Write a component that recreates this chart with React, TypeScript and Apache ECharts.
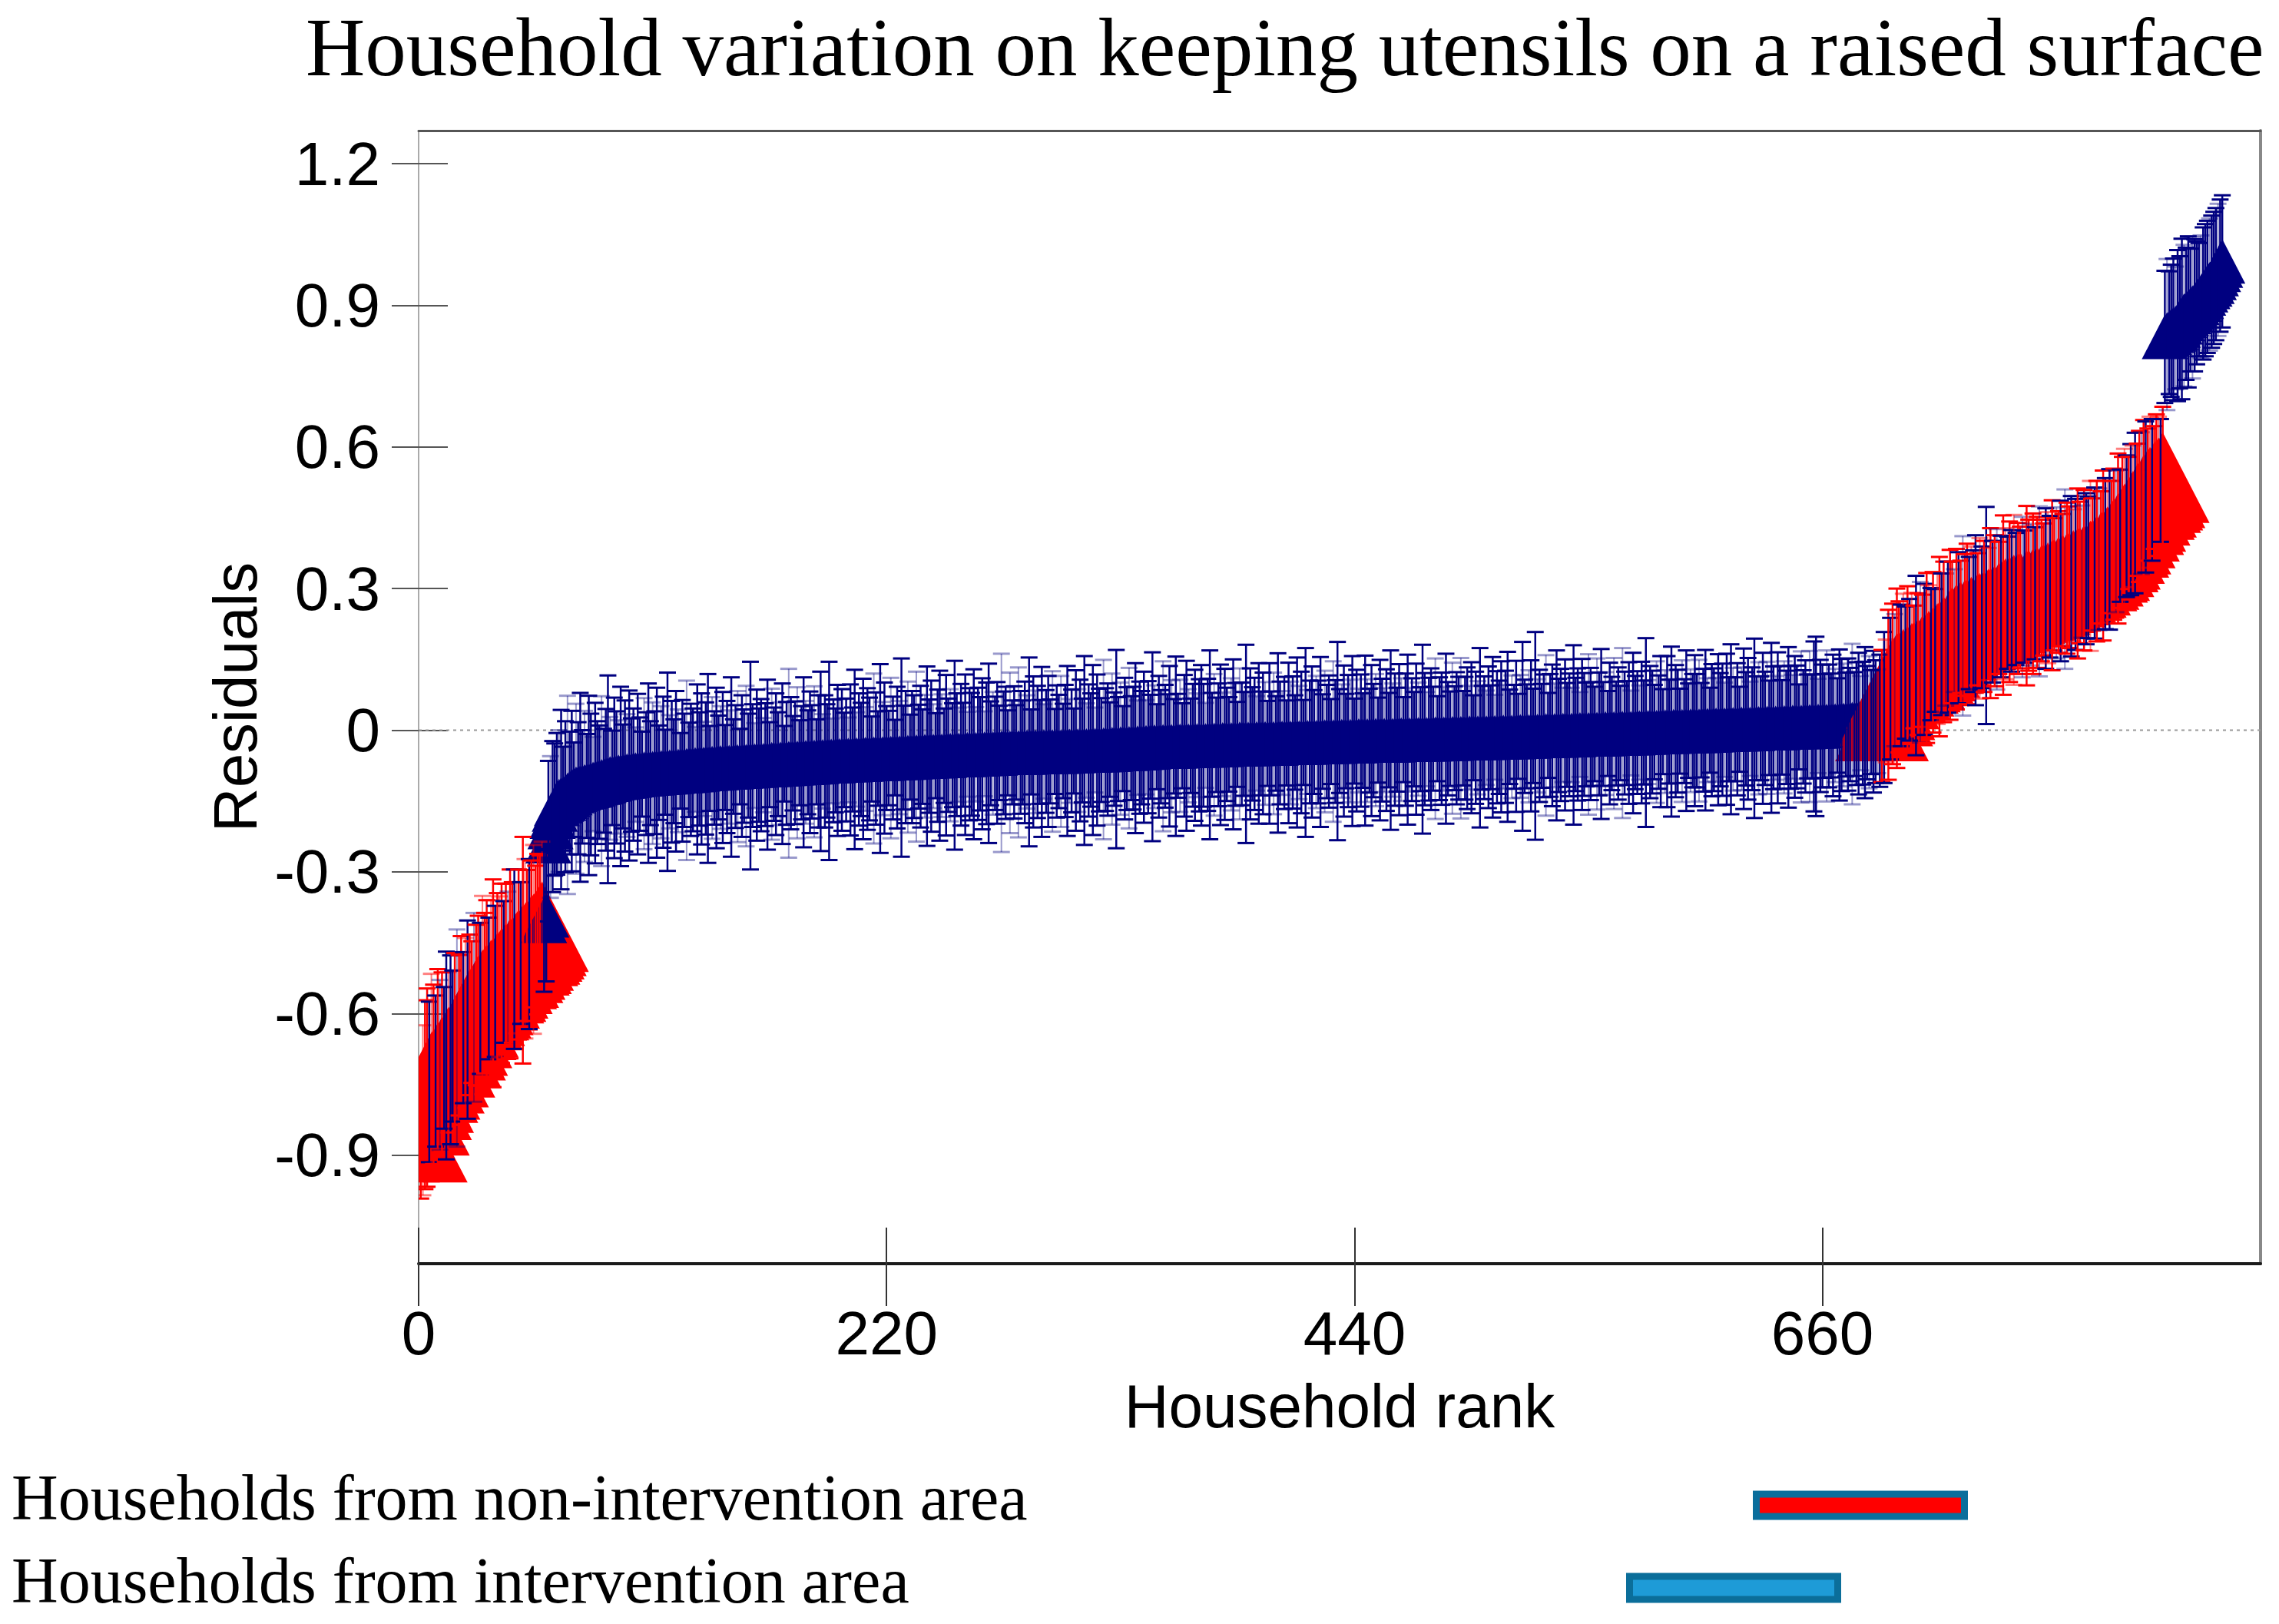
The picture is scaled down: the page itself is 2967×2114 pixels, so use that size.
import React, { useEffect, useRef } from "react";
import * as echarts from "echarts";

const TITLE = "Household variation on keeping utensils on a raised surface";
const X_NAME = "Household rank";
const Y_NAME = "Residuals";
const LEGEND_RED = "Households from non-intervention area";
const LEGEND_BLUE = "Households from intervention area";

const xTicks = [0, 220, 440, 660];
const yTicks = [-0.9, -0.6, -0.3, 0, 0.3, 0.6, 0.9, 1.2];
const X_MIN = 0;
const X_MAX = 866;
const Y_MIN = -1.13;
const Y_MAX = 1.27;

// Residuals (thousandths) by rank segment
// ranks 1-65
const resLeft = [
  -862, -805, -772, -757, -745, -736, -729, -722, -716, -709,
  -703, -694, -689, -682, -677, -669, -662, -652, -646, -636,
  -630, -620, -613, -603, -597, -587, -582, -573, -568, -561,
  -557, -550, -547, -540, -536, -532, -525, -522, -515, -512,
  -505, -502, -495, -492, -485, -482, -475, -472, -466, -463,
  -456, -453, -446, -443, -437, -432, -425, -416, -404, -392,
  -235, -205, -183, -168, -156,
];
// ranks 66-100
const resMidA = [
  -150, -147, -145, -141, -137, -133, -129, -126, -124, -123,
  -121, -120, -119, -118, -117, -115, -114, -112, -111, -110,
  -108, -107, -105, -104, -102, -101, -101, -100, -99, -98,
  -98, -97, -96, -96, -95,
];
// ranks 101-200
const resMidB = [
  -94, -94, -93, -93, -93, -92, -92, -91, -91, -91, -90, -90, -90, -89, -89, -89, -88, -88, -88, -87,
  -87, -86, -86, -86, -85, -85, -84, -84, -84, -83, -83, -82, -82, -82, -81,
  -81, -81, -80, -80, -80, -79, -79, -79, -79, -78, -78, -78, -77, -77, -77, -77, -76, -76, -76, -75, -75, -75, -75, -74, -74,
  -74, -74, -73, -73, -73, -72, -72, -72, -72, -71, -71, -71, -70, -70, -70, -70, -69, -69, -69, -69, -68, -68,
  -68, -68, -67, -67, -67, -66, -66, -66, -66, -65, -65, -65, -65, -64, -64, -64, -63, -63,
];
// ranks 201-300
const resMidC = [
  -63, -63, -63, -62, -62, -62, -62, -62, -61, -61, -61, -61, -61, -60, -60, -60, -60, -60, -59, -59, -59, -59, -59, -58, -58, -58, -58,
  -58, -57, -57, -57, -57, -56, -56, -56, -56, -56, -55, -55, -55, -55, -55, -54, -54, -54, -54, -54, -53, -53, -53,
  -53, -53, -52, -52, -52, -52, -52, -51, -51, -51, -51, -51, -50, -50, -50, -50, -49, -49, -49, -49, -49, -48, -48,
  -48, -48, -48, -48, -48, -47, -47, -47, -47, -47, -47, -47, -46, -46, -46, -46, -46, -46, -46, -46, -45, -45, -45, -45, -45, -45, -45,
];
// ranks 301-400
const resMidD = [
  -45, -45, -44, -44, -44, -44, -44, -44, -43, -43, -43, -43, -43, -43, -43, -42, -42, -42, -42,
  -42, -42, -41, -41, -41, -41, -40, -40, -40, -40, -39, -39, -39, -39, -38, -38, -38, -38, -37, -37, -37, -36, -36, -36, -35,
  -35, -35, -35, -35, -35, -34, -34, -34, -34, -34, -34, -34, -33, -33, -33, -33, -33, -33, -33, -32, -32, -32, -32, -32, -32, -32, -31, -31, -31, -31, -31, -31, -31, -30, -30, -30,
  -30, -30, -30, -30, -30, -29, -29, -29, -29, -29, -29, -29, -29, -28, -28, -28, -28, -28, -28, -28,
];
// ranks 401-500
const resMidE = [
  -28, -28, -28, -27, -27, -27, -27, -27, -27, -27, -26, -26, -26, -26, -26, -26, -26, -25, -25, -25, -25, -25, -25, -25, -24, -24, -24, -24, -24, -24, -24, -23, -23, -23, -23,
  -23, -23, -23, -23, -23, -22, -22, -22, -22, -22, -22, -22, -22, -22, -21, -21, -21, -21, -21, -21, -21, -21, -21, -20, -20, -20, -20, -20, -20, -20, -20, -20, -19, -19, -19, -19, -19, -19, -19, -19, -19, -18, -18, -18, -18,
  -18, -18, -18, -18, -18, -17, -17, -17, -17, -17, -17, -17, -17, -16, -16, -16, -16, -16, -16, -16,
];
// ranks 501-600
const resMidF = [
  -16, -16, -15, -15, -15, -15, -15, -15, -14, -14, -14, -14, -14, -14, -14, -13, -13, -13, -13, -13, -13, -13, -12, -12, -12, -12, -12,
  -12, -12, -11, -11, -11, -11, -11, -11, -11, -10, -10, -10, -10, -10, -10, -10, -9, -9, -9, -9, -9, -9, -9, -8, -8, -8, -8, -8, -8, -8, -7, -7, -7, -7, -7, -7, -7, -6, -6, -6, -6, -6, -6,
  -6, -5, -5, -5, -5, -5, -5, -4, -4, -4, -4, -4, -4, -3, -3, -3, -3, -3, -3, -2, -2, -2, -2, -2, -2, -1, -1, -1, -1, -1,
];
// ranks 601-687
const resMidG = [
  -1, -1, 0, 0, 0, 0, 0, 0, 1, 1, 1, 1, 1, 1, 2, 2, 2, 2, 2,
  2, 2, 3, 3, 3, 3, 3, 3, 4, 4, 4, 4, 4, 4, 5, 5, 5, 5, 5, 5, 6, 6, 6, 6, 6, 6, 7, 7, 7, 7, 7, 7, 8, 8, 8, 8, 8, 8, 9, 9, 9, 9, 9, 9, 10, 10,
  10, 10, 11, 11, 11, 12, 12, 12, 13, 13, 14, 14, 15, 15, 16, 16, 17, 17, 18, 18, 19, 20,
];
// ranks 688-820
const resRight = [
  30, 48, 62, 75, 88, 98, 106, 110, 113, 116,
  119, 122, 125, 128, 131, 134, 137, 140, 144, 147,
  150, 153, 157, 161, 165, 169, 173, 177, 182, 187,
  192, 197, 202, 207, 211, 214, 217, 219, 221, 223,
  225, 227, 229, 231, 233, 235, 237, 239, 241, 243,
  246, 248, 251, 253, 256, 259, 262, 265, 268, 270,
  272, 274, 276, 278, 279, 281, 282, 283, 285, 286,
  287, 289, 290, 292, 294, 296, 298, 300, 302, 304,
  307, 309, 312, 314, 316, 318, 320, 322, 324, 326,
  328, 330, 332, 334, 336, 339, 342, 345, 348, 351,
  354, 358, 362, 366, 370, 374, 378, 383, 388, 394,
  400, 406, 412, 419, 426, 432, 439, 446, 453, 460,
  467, 474, 481, 487, 494, 499, 504, 509, 514, 519,
  524, 529, 535,
];
// ranks 821-848
const resTop = [
  833, 838, 842, 846, 849, 852, 857, 864, 871, 878,
  882, 886, 890, 895, 900, 905, 912, 918, 925, 932,
  939, 944, 950, 958, 966, 975, 984, 993,
];

// Error bar half-lengths (hundredths), same segments
const seLeft = [
  13, 18, 20, 21, 17, 22, 19, 16, 21, 18,
  19, 15, 22, 17, 20, 16, 19, 23, 17, 20,
  16, 18, 21, 17, 15, 20, 17, 18, 16, 21,
  17, 19, 15, 18, 22, 16, 18, 17, 19, 15,
  18, 16, 20, 17, 19, 16, 18, 15, 24, 19,
  16, 18, 17, 20, 15, 17, 16, 18, 15, 14,
  17, 15, 16, 14, 15,
];
const seMidA = [
  15, 19, 11, 16, 21, 13, 17, 10, 18, 14, 20, 12, 16, 11, 19, 15, 10, 17, 13, 12,
  18, 11, 15, 22, 13, 10, 17, 14, 12, 19, 11, 16, 13, 18, 12,
];
const seMidB = [
  14, 10, 17, 12, 9, 16, 13, 19, 11, 15, 13, 18, 10, 14, 16, 9, 21, 12, 15, 11,
  17, 13, 8, 15, 12, 19, 10, 14, 13, 9, 18, 12, 16, 10, 14, 20, 9, 15, 12, 17,
  11, 13, 16, 9, 14, 12, 19, 10, 13, 16, 8, 15, 12, 17, 11, 22, 13, 9, 16, 12,
  14, 10, 13, 18, 9, 16, 12, 15, 11, 13, 17, 8, 13, 20, 14, 10, 13, 16, 9, 12,
  18, 13, 11, 15, 12, 16, 9, 14, 19, 10, 14, 12, 21, 9, 13, 11, 16, 13, 15, 10,
];
const seMidC = [
  13, 9, 16, 11, 19, 10, 14, 12, 17, 11, 15, 13, 9, 18, 14, 10, 20, 12, 16, 11,
  10, 17, 13, 8, 15, 12, 21, 11, 14, 16, 9, 14, 13, 18, 11, 15, 10, 13, 19, 12,
  16, 11, 9, 14, 18, 13, 10, 17, 12, 14, 11, 20, 13, 10, 15, 11, 17, 9, 14, 13,
  18, 10, 14, 12, 16, 9, 15, 19, 11, 13, 12, 15, 10, 21, 13, 14, 9, 17, 11, 14,
  10, 18, 13, 11, 15, 12, 20, 9, 16, 13, 14, 11, 18, 10, 13, 16, 11, 17, 9, 14,
];
const seMidD = [
  12, 16, 10, 14, 18, 11, 13, 9, 17, 13, 15, 11, 20, 10, 14, 12, 18, 9, 16, 13,
  11, 19, 13, 14, 10, 16, 12, 21, 11, 14, 9, 15, 13, 17, 11, 13, 18, 10, 14, 12,
  16, 10, 14, 11, 20, 13, 9, 15, 12, 18, 13, 11, 17, 14, 10, 19, 11, 14, 9, 15,
  18, 12, 10, 13, 16, 11, 14, 17, 13, 9, 14, 20, 11, 15, 10, 13, 17, 11, 16, 12,
  10, 14, 18, 13, 9, 16, 13, 11, 21, 11, 16, 12, 14, 10, 17, 11, 15, 13, 9, 17,
];
const seMidE = [
  11, 15, 10, 19, 13, 11, 14, 9, 17, 13, 14, 10, 18, 12, 15, 9, 20, 11, 13, 16,
  11, 14, 13, 18, 10, 15, 12, 14, 9, 17, 13, 21, 11, 12, 16, 10, 14, 13, 18, 9,
  15, 11, 14, 10, 18, 13, 11, 16, 12, 14, 9, 17, 13, 11, 15, 10, 19, 12, 14, 11,
  16, 13, 9, 14, 18, 11, 13, 10, 16, 12, 11, 20, 14, 10, 13, 15, 11, 17, 9, 13,
  14, 11, 18, 12, 10, 16, 11, 14, 13, 17, 10, 13, 15, 11, 16, 9, 14, 12, 19, 11,
];
const seMidF = [
  13, 10, 15, 11, 17, 9, 14, 12, 16, 11, 14, 18, 10, 13, 11, 16, 9, 13, 20, 12,
  11, 14, 16, 10, 22, 12, 14, 11, 13, 17, 9, 13, 15, 11, 18, 12, 14, 10, 16, 11,
  13, 10, 19, 12, 14, 9, 16, 13, 11, 17, 14, 11, 10, 16, 13, 18, 11, 13, 9, 15,
  12, 16, 11, 14, 10, 18, 13, 11, 15, 9, 17, 12, 13, 10, 15, 11, 20, 11, 14, 13,
  10, 15, 12, 16, 9, 13, 16, 11, 18, 11, 14, 13, 9, 15, 11, 17, 10, 13, 12, 16,
];
const seMidG = [
  12, 15, 10, 13, 17, 11, 9, 14, 13, 11, 16, 12, 14, 10, 16, 11, 18, 13, 11, 14,
  9, 13, 17, 12, 15, 10, 13, 19, 11, 14, 11, 16, 12, 14, 10, 18, 13, 11, 16, 13,
  10, 14, 12, 17, 13, 11, 15, 13, 9, 16, 12, 14, 11, 16, 11, 18, 19, 10, 14, 13,
  11, 16, 13, 11, 15, 12, 10, 16, 14, 13, 11, 14, 12, 17, 11, 13, 15, 10, 13, 16,
  12, 14, 11, 15, 13, 11, 14,
];
const seRight = [
  14, 16, 13, 18, 15, 17, 14, 19, 16, 15,
  17, 14, 18, 15, 16, 13, 19, 15, 17, 14,
  16, 18, 15, 14, 17, 13, 16, 19, 15, 17,
  14, 16, 18, 15, 13, 17, 16, 14, 19, 15,
  17, 14, 16, 15, 18, 14, 17, 15, 16, 23,
  14, 18, 15, 16, 17, 14, 15, 19, 16, 14,
  17, 15, 18, 14, 16, 15, 17, 14, 19, 16,
  15, 17, 14, 16, 18, 15, 14, 17, 16, 15,
  18, 14, 16, 15, 17, 14, 19, 16, 15, 17,
  14, 16, 18, 15, 14, 17, 16, 15, 18, 14,
  16, 17, 15, 14, 18, 16, 15, 17, 14, 16,
  15, 18, 14, 16, 17, 15, 14, 16, 15, 17,
  14, 16, 15,
];
const seTop = [
  17, 16, 14, 16, 15, 13, 15, 14, 13, 15,
  14, 16, 13, 14, 15, 13, 16, 14, 17, 15,
  14, 16, 13, 15, 14, 13, 12, 13,
];

// Group of each household: R = non-intervention, B = intervention
const groupLeft =
  "RRRRBRRBRB" + "RBBRBBRBRR" + "BRBRRBRRBR" + "RRBRRBRRRB" + "RBRRBRRBRR" + "RBRRR" + "RRR" + "BBBBBBB";
const groupMidCode = "B";
const groupRight =
  "RBRRBRBRRB" + "RBRBRRBRBR" + "BRRBRBRRBR" + "BBRRBRBRBR" + "RBRBBRRBRB" + "RRBRBRBRRB" +
  "RBRBRRBBRR" + "BRBRBRRBRB" + "RRBRBRBRRB" + "RBRRBRBBRR" + "BRBRRBRBRR" + "BRBRRBRBRB" +
  "RRBRBRRBRR" + "RBR";
const groupTopCode = "B";

const resMid = [...resMidA, ...resMidB, ...resMidC, ...resMidD, ...resMidE, ...resMidF, ...resMidG];
const seMid = [...seMidA, ...seMidB, ...seMidC, ...seMidD, ...seMidE, ...seMidF, ...seMidG];
const residuals = [...resLeft, ...resMid, ...resRight, ...resTop].map((v) => v / 1000);
const halfBars = [...seLeft, ...seMid, ...seRight, ...seTop].map((v) => v / 100);
const groups =
  groupLeft + groupMidCode.repeat(resMid.length) + groupRight + groupTopCode.repeat(resTop.length);

const points = residuals.map((r, i) => [i + 1, r, halfBars[i] ?? 0.14, groups[i] === "R" ? 1 : 0]);

const RED = "#ff0000";
const NAVY = "#000080";
const SANS = "'Liberation Sans', Arial, Helvetica, sans-serif";
const SERIF = "'Liberation Serif', 'Times New Roman', Times, serif";

function buildOption(): any {
  const axisText = { fontSize: 80, fontFamily: SANS, color: "#000" };
  return {
    animation: false,
    backgroundColor: "#ffffff",
    textStyle: { fontFamily: SANS },
    grid: { left: 545, right: 24, top: 170, bottom: 469, containLabel: false },
    xAxis: [
      {
        type: "value",
        position: "bottom",
        min: X_MIN,
        max: X_MAX,
        axisLine: { show: true, onZero: false, lineStyle: { color: "#1a1a1a", width: 4 } },
        axisTick: { show: true, inside: false, length: 55, customValues: xTicks, lineStyle: { color: "#333", width: 2 } },
        axisLabel: { show: true, customValues: xTicks, margin: 50, ...axisText, formatter: (v: number) => String(v) },
        splitLine: { show: false },
        name: X_NAME,
        nameLocation: "middle",
        nameGap: 145,
        nameTextStyle: axisText,
      },
      {
        type: "value",
        position: "bottom",
        min: X_MIN,
        max: X_MAX,
        axisLine: { show: false, onZero: false },
        axisTick: { show: true, inside: true, length: 47, customValues: xTicks, lineStyle: { color: "#333", width: 2 } },
        axisLabel: { show: false },
        splitLine: { show: false },
      },
      {
        type: "value",
        position: "top",
        min: X_MIN,
        max: X_MAX,
        axisLine: { show: true, onZero: false, lineStyle: { color: "#555", width: 3 } },
        axisTick: { show: false },
        axisLabel: { show: false },
        splitLine: { show: false },
      },
    ],
    yAxis: [
      {
        type: "value",
        position: "left",
        min: Y_MIN,
        max: Y_MAX,
        axisLine: { show: true, onZero: false, lineStyle: { color: "#aaaaaa", width: 2 } },
        axisTick: { show: true, inside: false, length: 35, customValues: yTicks, lineStyle: { color: "#555", width: 2 } },
        axisLabel: { show: true, customValues: yTicks, margin: 50, ...axisText, formatter: (v: number) => String(v) },
        splitLine: { show: false },
        name: Y_NAME,
        nameLocation: "middle",
        nameGap: 195,
        nameRotate: 90,
        nameTextStyle: axisText,
      },
      {
        type: "value",
        position: "left",
        min: Y_MIN,
        max: Y_MAX,
        axisLine: { show: false, onZero: false },
        axisTick: { show: true, inside: true, length: 38, customValues: yTicks, lineStyle: { color: "#555", width: 2 } },
        axisLabel: { show: false },
        splitLine: { show: false },
      },
      {
        type: "value",
        position: "right",
        min: Y_MIN,
        max: Y_MAX,
        axisLine: { show: true, onZero: false, lineStyle: { color: "#888", width: 4 } },
        axisTick: { show: false },
        axisLabel: { show: false },
        splitLine: { show: false },
      },
    ],
    series: [
      {
        type: "custom",
        name: "zero",
        z: 1,
        clip: true,
        xAxisIndex: 0,
        yAxisIndex: 0,
        data: [[0, 0]],
        silent: true,
        renderItem: (_p: any, api: any) => {
          const a = api.coord([X_MIN, 0]);
          const b = api.coord([X_MAX, 0]);
          return {
            type: "line",
            shape: { x1: a[0], y1: a[1], x2: b[0], y2: b[1] },
            style: { stroke: "#999", lineWidth: 2, lineDash: [4, 5] },
          };
        },
      },
      {
        type: "custom",
        name: "markers",
        z: 2,
        clip: true,
        xAxisIndex: 0,
        yAxisIndex: 0,
        data: points,
        encode: { x: 0, y: 1 },
        silent: true,
        renderItem: (_p: any, api: any) => {
          const c = api.coord([api.value(0), api.value(1)]);
          const red = api.value(3) === 1;
          const w = red ? 122 : 60;
          const h = red ? 118 : 58;
          return {
            type: "polygon",
            shape: {
              points: [
                [c[0], c[1] - h / 2],
                [c[0] + w / 2, c[1] + h / 2],
                [c[0] - w / 2, c[1] + h / 2],
              ],
            },
            style: { fill: red ? RED : NAVY },
          };
        },
      },
      {
        type: "custom",
        name: "bars",
        z: 3,
        clip: true,
        xAxisIndex: 0,
        yAxisIndex: 0,
        data: points,
        encode: { x: 0, y: 1 },
        silent: true,
        renderItem: (p: any, api: any) => {
          const x = api.value(0);
          const y = api.value(1);
          const se = api.value(2);
          const red = api.value(3) === 1;
          const top = api.coord([x, y + se]);
          const bot = api.coord([x, y - se]);
          const light = p.dataIndex % 4 === 1;
          const color = red
            ? light ? "rgba(255,0,0,0.5)" : "#ff0000"
            : light ? "rgba(0,0,128,0.4)" : "#000080";
          const lw = light ? 2 : 2.5;
          const cap = 11;
          return {
            type: "group",
            children: [
              { type: "line", shape: { x1: top[0], y1: top[1], x2: bot[0], y2: bot[1] }, style: { stroke: color, lineWidth: lw } },
              { type: "line", shape: { x1: top[0] - cap, y1: top[1], x2: top[0] + cap, y2: top[1] }, style: { stroke: color, lineWidth: 3 } },
              { type: "line", shape: { x1: bot[0] - cap, y1: bot[1], x2: bot[0] + cap, y2: bot[1] }, style: { stroke: color, lineWidth: 3 } },
            ],
          };
        },
      },
    ],
    graphic: [
      {
        type: "text",
        left: 398,
        top: 8,
        style: { text: TITLE, font: `107px ${SERIF}`, fill: "#000" },
        silent: true,
      },
      {
        type: "text",
        left: 15,
        top: 1907,
        style: { text: LEGEND_RED, font: `84px ${SERIF}`, fill: "#000" },
        silent: true,
      },
      {
        type: "text",
        left: 15,
        top: 2015,
        style: { text: LEGEND_BLUE, font: `84px ${SERIF}`, fill: "#000" },
        silent: true,
      },
      {
        type: "rect",
        shape: { x: 2286.5, y: 1945, width: 271, height: 29 },
        style: { fill: RED, stroke: "#0a6e9c", lineWidth: 9 },
        silent: true,
      },
      {
        type: "rect",
        shape: { x: 2121.5, y: 2052, width: 271, height: 30 },
        style: { fill: "#1e9bd7", stroke: "#0b6e9a", lineWidth: 9 },
        silent: true,
      },
    ],
  };
}

export default function App() {
  const ref = useRef<HTMLDivElement>(null);
  useEffect(() => {
    if (!ref.current) return;
    const chart = echarts.init(ref.current, null, { renderer: "svg" });
    chart.setOption(buildOption());
    return () => {
      chart.dispose();
    };
  }, []);
  return (
    <div
      ref={ref}
      style={{ position: "fixed", left: 0, top: 0, width: 2967, height: 2114, background: "#fff" }}
    />
  );
}
